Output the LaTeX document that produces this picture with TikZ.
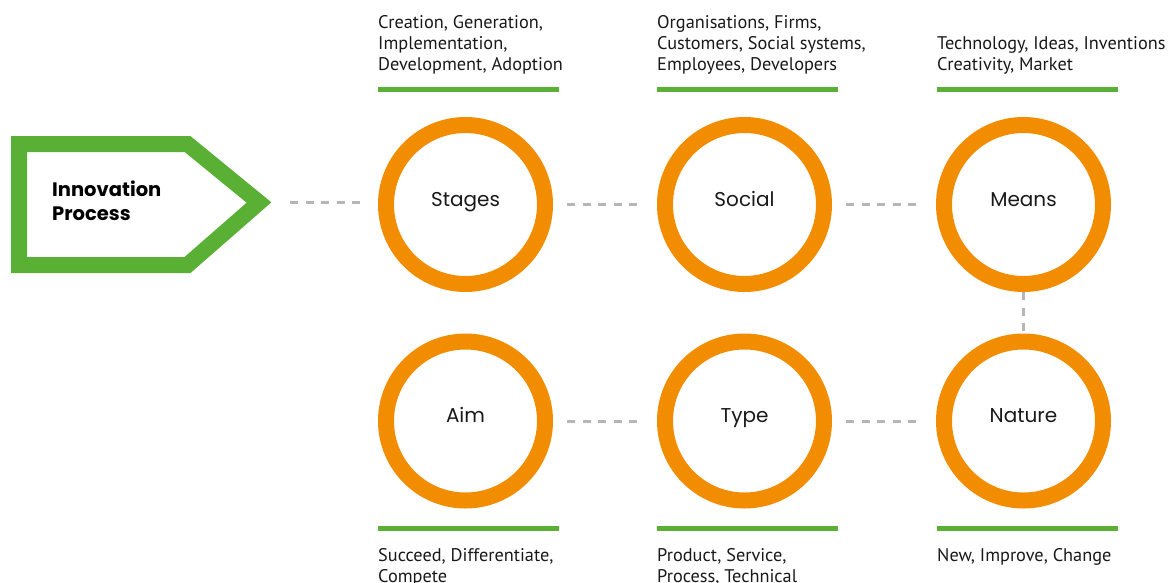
\documentclass[tikz,border=0pt]{standalone}
\usepackage{fontspec}
\setmainfont{PT Sans}
\newfontfamily\geofont{Poppins}
\definecolor{ringorange}{RGB}{242,140,0}
\definecolor{leafgreen}{RGB}{90,175,53}
\definecolor{dashgrey}{RGB}{182,182,182}
\definecolor{ink}{RGB}{25,25,25}
\begin{document}
\begin{tikzpicture}[x=1pt,y=-1pt,
  ring/.style={circle, draw=ringorange, line width=16pt, minimum size=159pt,
    inner sep=0pt, text=ink, text height=14pt, text depth=11pt,
    font=\geofont\fontsize{20}{24}\selectfont},
  link/.style={draw=dashgrey, line width=3pt, dash pattern=on 8pt off 7.5pt},
  bar/.style={draw=leafgreen, line width=5pt},
  caption/.style={anchor=base west, align=left, inner sep=0pt, text=ink,
    font=\fontsize{18.3}{21}\selectfont},
  title/.style={anchor=base west, align=left, inner sep=0pt, text=black,
    font=\geofont\bfseries\fontsize{19.5}{23.5}\selectfont}]
\useasboundingbox (0,0) rectangle (1168,582);

% process arrow
\draw[leafgreen, line width=16pt, miter limit=10]
  (19,144) -- (187.5,144) -- (259,202.5) -- (187.5,265) -- (19,265) -- cycle;
\coordinate (tip) at (272,202);
\node[title] (proc) at (52,220) {Innovation\\Process};

% rings
\node[ring] (stages) at (465.5,204.5) {Stages};
\node[ring] (social) at (744.5,204.5) {Social};
\node[ring] (means)  at (1023.5,204.5) {Means};
\node[ring] (aim)    at (465.5,421) {Aim};
\node[ring] (type)   at (744.5,421) {Type};
\node[ring] (nature) at (1023.5,421) {Nature};

% dashed connectors
\draw[link, shorten <=18pt, shorten >=16pt] (tip) -- (tip -| stages.west);
\draw[link, shorten <=14pt, shorten >=17pt] (stages) -- (social);
\draw[link, shorten <=14pt, shorten >=17pt] (social) -- (means);
\draw[link] (means.south) -- (nature.north);
\draw[link, shorten <=14pt, shorten >=17pt] (aim) -- (type);
\draw[link, shorten <=14pt, shorten >=17pt] (type) -- (nature);

% green bars
\draw[bar] (378,89) -- (558.5,89);
\draw[bar] (657,89) -- (837.5,89);
\draw[bar] (937,89) -- (1117.5,89);
\draw[bar] (378,528) -- (558.5,528);
\draw[bar] (657,528) -- (837.5,528);
\draw[bar] (937,528) -- (1117.5,528);

% captions (base anchor sits on the last line)
\node[caption] (capstages) at (378,70.5) {Creation, Generation,\\Implementation,\\Development, Adoption};
\node[caption] (capsocial) at (657,70.5) {Organisations, Firms,\\Customers, Social systems,\\Employees, Developers};
\node[caption] (capmeans)  at (937,70.5) {Technology, Ideas, Inventions\\Creativity, Market};
\node[caption] (capaim)    at (378,582) {Succeed, Differentiate,\\Compete};
\node[caption] (captype)   at (657,582) {Product, Service,\\Process, Technical};
\node[caption] (capnature) at (937,561) {New, Improve, Change};
\end{tikzpicture}
\end{document}
